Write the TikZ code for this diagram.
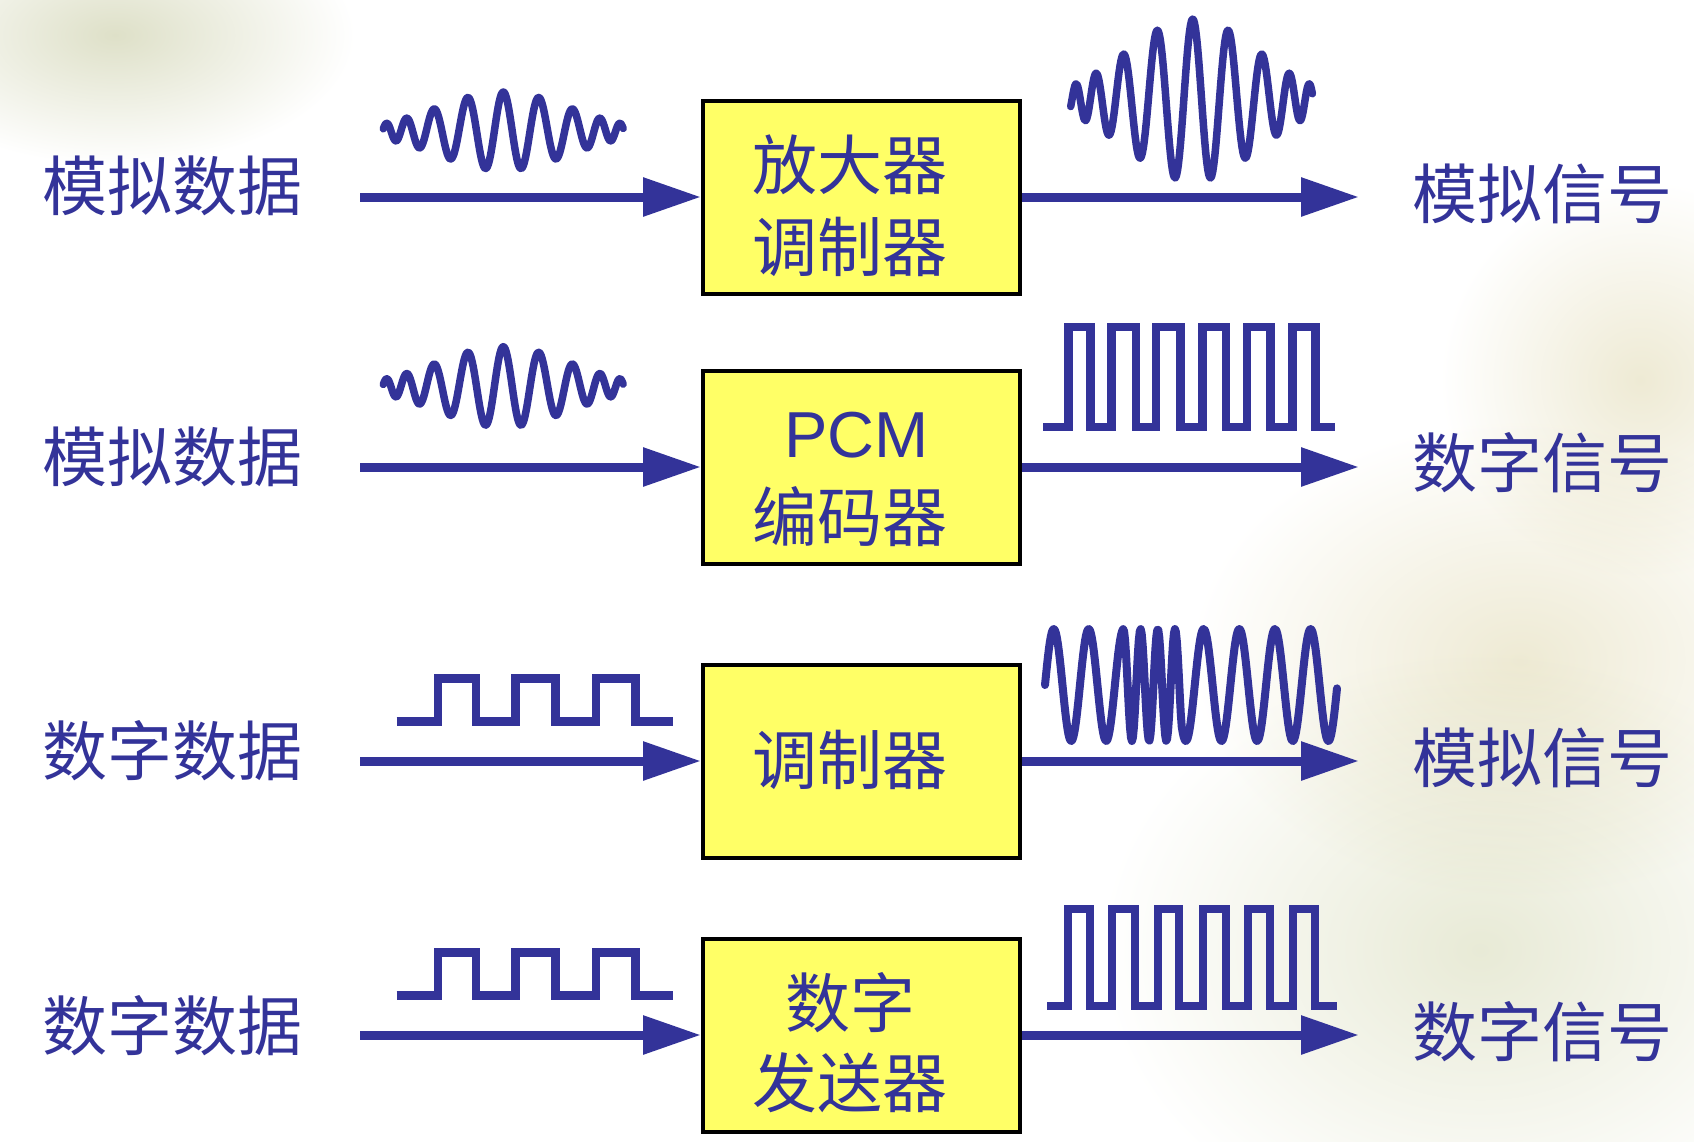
\documentclass[tikz,border=0pt]{standalone}
\usepackage{fontspec}
\newfontfamily\cjk{Noto Sans CJK SC}
\newfontfamily\lat{Liberation Sans}
\usetikzlibrary{arrows.meta}
\definecolor{wblue}{RGB}{51,51,153}
\definecolor{boxyellow}{RGB}{255,255,102}
\definecolor{bgA}{RGB}{222,224,200}
\definecolor{bgB}{RGB}{238,234,212}
\definecolor{bgC}{RGB}{232,234,214}
\newcommand\amwave[5]{%
  \draw[wave] plot[domain=#4:#5, samples=241]
    ({#1+100*(\x)},{#2-#3*exp(-((\x)*(\x))/0.8464)*cos(1009*(\x)+121*(\x)*(\x)*(\x)*(\x)*(\x))});}
\begin{document}
\begin{tikzpicture}[x=1pt,y=-1pt,
  wave/.style={draw=wblue, line width=7.5pt, line cap=round, line join=round},
  sq/.style={draw=wblue, line width=8.5pt, line join=miter},
  conn/.style={draw=wblue, line width=9pt, -{Triangle[length=58pt,width=37pt]}},
  blk/.style={draw=black, line width=4pt, fill=boxyellow, minimum width=317pt, minimum height=193pt, inner sep=0pt},
  lbl/.style={text=wblue, font=\cjk\fontsize{65}{70}\selectfont, inner sep=0pt},
  pcm/.style={text=wblue, font=\lat\fontsize{65}{70}\selectfont, inner sep=0pt}]
\useasboundingbox (0,0) rectangle (1694,1141);
\fill[white] (0,0) rectangle (1694,1141);
% faint background watermark
\begin{scope}[blend mode=multiply]
\shade[inner color=bgA, outer color=white] (115,35) ellipse [x radius=240, y radius=130];
\shade[inner color=bgB, outer color=white] (1520,660) ellipse [x radius=330, y radius=240];
\shade[inner color=bgC, outer color=white] (1480,950) ellipse [x radius=380, y radius=300];
\shade[inner color=bgB, outer color=white] (1640,380) ellipse [x radius=200, y radius=200];
\end{scope}

% boxes
\node[blk] (b1) at (861.5,197) {};
\node[blk] (b2) at (861.5,467) {};
\node[blk] (b3) at (861.5,761) {};
\node[blk] (b4) at (861.5,1035) {};

% box texts
\node[lbl] (b1a) at (850,165) {放大器};
\node[lbl] (b1b) at (850,247) {调制器};
\node[pcm] (b2a) at (856.5,435) {PCM};
\node[lbl] (b2b) at (850,517) {编码器};
\node[lbl] (b3a) at (850,760) {调制器};
\node[lbl] (b4a) at (850,1003) {数字};
\node[lbl] (b4b) at (850,1083) {发送器};

% left labels
\node[lbl] (l1) at (172,186) {模拟数据};
\node[lbl] (l2) at (172,457) {模拟数据};
\node[lbl] (l3) at (172,751) {数字数据};
\node[lbl] (l4) at (172,1026) {数字数据};

% right labels
\node[lbl] (r1) at (1542,194) {模拟信号};
\node[lbl] (r2) at (1542,463) {数字信号};
\node[lbl] (r3) at (1542,758) {模拟信号};
\node[lbl] (r4) at (1542,1032) {数字信号};

% arrow end points
\coordinate (i1) at (360,197);
\coordinate (i2) at (360,467);
\coordinate (i3) at (360,761);
\coordinate (i4) at (360,1035);
\coordinate (o1) at (1359,197);
\coordinate (o2) at (1359,467);
\coordinate (o3) at (1359,761);
\coordinate (o4) at (1359,1035);

\draw[conn] (i1) -- (b1.west);
\draw[conn] (i2) -- (b2.west);
\draw[conn] (i3) -- (b3.west);
\draw[conn] (i4) -- (b4.west);
\draw[conn] (b1.east) -- (o1);
\draw[conn] (b2.east) -- (o2);
\draw[conn] (b3.east) -- (o3);
\draw[conn] (b4.east) -- (o4);

% waveforms
\amwave{503.3}{131}{39}{-1.2}{1.2}
\amwave{503.3}{386.7}{40}{-1.2}{1.2}
\amwave{1192.7}{100}{81}{-1.22}{1.2}

\draw[sq] (1043,427) -| (1068.3,327) -| (1090.7,427) -| (1111.7,327) -| (1136,427)
  -| (1156,327) -| (1180.3,427) -| (1202.3,327) -| (1226,427) -| (1247,327)
  -| (1270.7,427) -| (1292.3,327) -| (1315.7,427) -- (1335,427);
\draw[sq] (1047,1006) -| (1068,909) -| (1090,1006) -| (1112,909) -| (1135,1006)
  -| (1158,909) -| (1179,1006) -| (1203,909) -| (1226,1006) -| (1248,909)
  -| (1270,1006) -| (1293,909) -| (1315,1006) -- (1337,1006);

\draw[sq] (396.7,721.7) -| (438,678.3) -| (476,721.7) -| (515.3,678.3) -| (555.3,721.7)
  -| (596,678.3) -| (635.3,721.7) -- (673.3,721.7);
\draw[sq] (396.7,995.7) -| (438,952.3) -| (476,995.7) -| (515.3,952.3) -| (555.3,995.7)
  -| (596,952.3) -| (635.3,995.7) -- (673.3,995.7);

\draw[wave, line width=8pt] plot[domain=1045:1337, samples=300]
  ({\x},{685-56*sin(10.3*(\x-1045)+10.6*max(0,\x-1123)-10.8*max(0,\x-1181.5))});
\end{tikzpicture}
\end{document}
